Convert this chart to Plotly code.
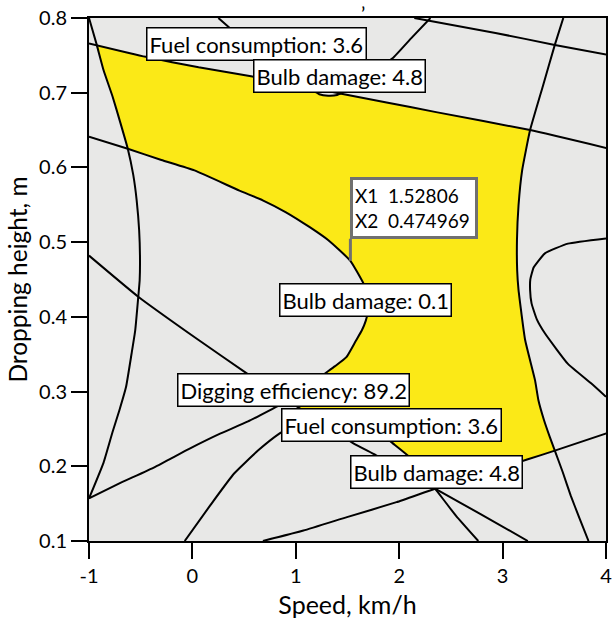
import plotly.graph_objects as go

# ---- contour lines of the overlay plot (speed km/h, dropping height m) ----
left_arc_speed = [-1.000, -0.929, -0.859, -0.770, -0.697, -0.625, -0.572, -0.539, -0.515, -0.507,
                  -0.510, -0.524, -0.553, -0.588, -0.642, -0.706, -0.773, -0.859, -1.000]
left_arc_height = [0.800, 0.766, 0.730, 0.694, 0.660, 0.625, 0.590, 0.556, 0.516, 0.480,
                   0.449, 0.426, 0.382, 0.351, 0.306, 0.275, 0.2455, 0.205, 0.157]

upper_line_speed = [-1.000, -0.451, 0.060, 0.567, 1.017, 1.428, 1.878, 2.357, 3.266, 4.003]
upper_line_height = [0.766, 0.748, 0.734, 0.722, 0.710, 0.699, 0.687, 0.674, 0.650, 0.626]

corner_line_speed = [2.146, 2.931, 3.505, 4.003]
corner_line_height = [0.800, 0.780, 0.764, 0.751]

top_loop_speed = [0.251, 0.366, 0.586, 0.825, 1.017, 1.132, 1.227, 1.313, 1.400, 1.476,
                  1.591, 1.763, 1.936, 2.117, 2.302]
top_loop_height = [0.800, 0.786, 0.757, 0.730, 0.714, 0.706, 0.698, 0.696, 0.697, 0.702,
                   0.713, 0.730, 0.746, 0.773, 0.800]

right_arc_speed = [3.587, 3.505, 3.390, 3.266, 3.189, 3.154, 3.139, 3.141, 3.154, 3.218,
                   3.314, 3.347, 3.400, 3.457, 3.505, 3.582, 3.658, 3.745, 3.831]
right_arc_height = [0.800, 0.764, 0.709, 0.650, 0.596, 0.549, 0.503, 0.462, 0.436, 0.369,
                    0.315, 0.288, 0.262, 0.239, 0.221, 0.192, 0.161, 0.130, 0.100]

lower_line_speed = [0.682, 1.074, 1.495, 1.974, 2.347, 2.787, 3.237, 3.505, 4.003]
lower_line_height = [0.100, 0.114, 0.132, 0.152, 0.170, 0.189, 0.209, 0.221, 0.244]

inner_arc_speed = [-1.000, -0.625, -0.300, 0.020, 0.455, 0.680, 0.905, 1.135, 1.315, 1.528,
                   1.655, 1.696, 1.706, 1.696, 1.677, 1.639, 1.577, 1.489, 1.380, 1.270,
                   1.065, 0.921, 0.538, 0.273, -0.036, -0.364, -0.706, -1.000]
inner_arc_height = [0.641, 0.625, 0.610, 0.596, 0.569, 0.556, 0.540, 0.520, 0.5025, 0.475,
                    0.4445, 0.429, 0.418, 0.406, 0.395, 0.382, 0.367, 0.346, 0.334, 0.323,
                    0.302, 0.288, 0.260, 0.244, 0.223, 0.199, 0.177, 0.157]

bottom_bow_speed = [-0.0745, 0.174, 0.401, 0.634, 0.844, 1.065, 1.179, 1.304, 1.543, 1.782,
                    1.936, 2.095, 2.347, 2.548, 2.765]
bottom_bow_height = [0.100, 0.148, 0.190, 0.221, 0.244, 0.262, 0.265, 0.268, 0.263, 0.248,
                     0.231, 0.213, 0.170, 0.134, 0.100]

diagonal_speed = [-1.000, -0.524, 0.060, 0.529, 0.921, 1.179, 1.553, 1.773, 2.347, 2.787, 3.244]
diagonal_height = [0.482, 0.427, 0.369, 0.324, 0.288, 0.265, 0.231, 0.215, 0.170, 0.136, 0.100]

right_loop_speed = [4.000, 3.632, 3.409, 3.300, 3.268, 3.266, 3.280, 3.330, 3.409, 3.632, 3.856, 4.000]
right_loop_height = [0.505, 0.498, 0.485, 0.466, 0.450, 0.436, 0.418, 0.397, 0.378, 0.337, 0.311, 0.293]

# ---- feasible (overlay) region ----
region_speed = [-0.931, -0.451, 0.060, 0.567, 1.017, 1.132, 1.227, 1.313, 1.400, 1.428,
                1.878, 2.357, 3.266, 3.189, 3.154, 3.139, 3.141, 3.154, 3.218, 3.314,
                3.347, 3.400, 3.457, 3.505, 3.237, 2.787, 2.347, 2.095, 1.936, 1.782,
                1.543, 1.304, 1.179, 0.921, 1.065, 1.270, 1.380, 1.489, 1.577, 1.639,
                1.677, 1.696, 1.706, 1.696, 1.655, 1.528, 1.315, 1.135, 0.905, 0.680,
                0.455, 0.020, -0.300, -0.625, -0.697, -0.770, -0.859, -0.931]
region_height = [0.764, 0.748, 0.734, 0.722, 0.710, 0.7065, 0.698, 0.696, 0.697, 0.699,
                 0.687, 0.674, 0.650, 0.596, 0.549, 0.503, 0.462, 0.436, 0.369, 0.315,
                 0.288, 0.262, 0.239, 0.221, 0.209, 0.189, 0.170, 0.213, 0.231, 0.248,
                 0.263, 0.268, 0.265, 0.288, 0.302, 0.323, 0.334, 0.346, 0.367, 0.382,
                 0.395, 0.406, 0.418, 0.429, 0.4445, 0.475, 0.5025, 0.520, 0.540, 0.556,
                 0.569, 0.596, 0.610, 0.625, 0.660, 0.694, 0.730, 0.764]

# ---- contour labels ----
label_text = ["Fuel consumption: 3.6", "Bulb damage: 4.8", "Bulb damage: 0.1",
              "Digging efficiency: 89.2", "Fuel consumption: 3.6", "Bulb damage: 4.8"]
label_speed = [0.624, 1.423, 1.677, 0.978, 1.926, 2.357]
label_height = [0.7655, 0.722, 0.4222, 0.3017, 0.2549, 0.192]

# ---- flagged point ----
point_speed = 1.52806
point_height = 0.474969

x_ticks = [-1, 0, 1, 2, 3, 4]
x_tick_text = ["-1", "0", "1", "2", "3", "4"]
y_ticks = [0.1, 0.2, 0.3, 0.4, 0.5, 0.6, 0.7, 0.8]
y_tick_text = ["0.1", "0.2", "0.3", "0.4", "0.5", "0.6", "0.7", "0.8"]

FONT = "Lato, Carlito, Calibri, sans-serif"
BG_GREY = "#E8E8E7"
YELLOW = "#FBE917"

fig = go.Figure()

fig.add_trace(go.Scatter(
    x=region_speed, y=region_height, mode="lines", fill="toself",
    fillcolor=YELLOW, line=dict(width=0), hoverinfo="skip", showlegend=False))

curves = [
    (left_arc_speed, left_arc_height),
    (upper_line_speed, upper_line_height),
    (corner_line_speed, corner_line_height),
    (top_loop_speed, top_loop_height),
    (right_arc_speed, right_arc_height),
    (lower_line_speed, lower_line_height),
    (inner_arc_speed, inner_arc_height),
    (bottom_bow_speed, bottom_bow_height),
    (diagonal_speed, diagonal_height),
    (right_loop_speed, right_loop_height),
]
for cx, cy in curves:
    fig.add_trace(go.Scatter(
        x=cx, y=cy, mode="lines",
        line=dict(color="black", width=2, shape="spline", smoothing=0.4),
        hoverinfo="skip", showlegend=False))

for txt, sx, sy in zip(label_text, label_speed, label_height):
    fig.add_annotation(
        x=sx, y=sy, text=txt, showarrow=False,
        font=dict(family=FONT, size=22, color="black"),
        bgcolor="white", bordercolor="black", borderwidth=1.5, borderpad=2)

fig.add_annotation(
    x=point_speed, y=point_height,
    text=f"X1\u00a0\u00a0{point_speed:.5f}<br>X2\u00a0\u00a0{point_height:.6f}",
    showarrow=True, arrowhead=0, arrowwidth=3, arrowcolor="#707070",
    ax=0, ay=-22, xanchor="left", yanchor="bottom", align="left",
    width=118, height=52,
    font=dict(family=FONT, size=19, color="black"),
    bgcolor="white", bordercolor="#707070", borderwidth=3, borderpad=2)

# small mark above the frame
fig.add_annotation(
    x=1.648, y=1, xref="x", yref="paper", text="\u2019", showarrow=False,
    xanchor="center", yanchor="top", yshift=18, borderpad=0,
    font=dict(family=FONT, size=20, color="black"))

axis_common = dict(
    showline=True, linecolor="black", linewidth=2, mirror=True,
    ticks="outside", ticklen=16, tickwidth=2, tickcolor="black",
    showgrid=False, zeroline=False, ticklabeloverflow="allow",
    tickfont=dict(family=FONT, size=20, color="black"),
)

fig.update_xaxes(
    range=[-1, 4], tickvals=x_ticks, ticktext=x_tick_text,
    title=dict(text="Speed, km/h", font=dict(family=FONT, size=25, color="black"), standoff=10),
    **axis_common)
fig.update_yaxes(
    range=[0.1, 0.8], tickvals=y_ticks, ticktext=y_tick_text,
    title=dict(text="Dropping height, m", font=dict(family=FONT, size=24.5, color="black"), standoff=5),
    **axis_common)

fig.update_layout(
    width=616, height=622, autosize=False,
    margin=dict(l=89, r=4, t=18, b=81, pad=0),
    plot_bgcolor=BG_GREY, paper_bgcolor="white",
    showlegend=False,
)

fig.write_html("out.html")
